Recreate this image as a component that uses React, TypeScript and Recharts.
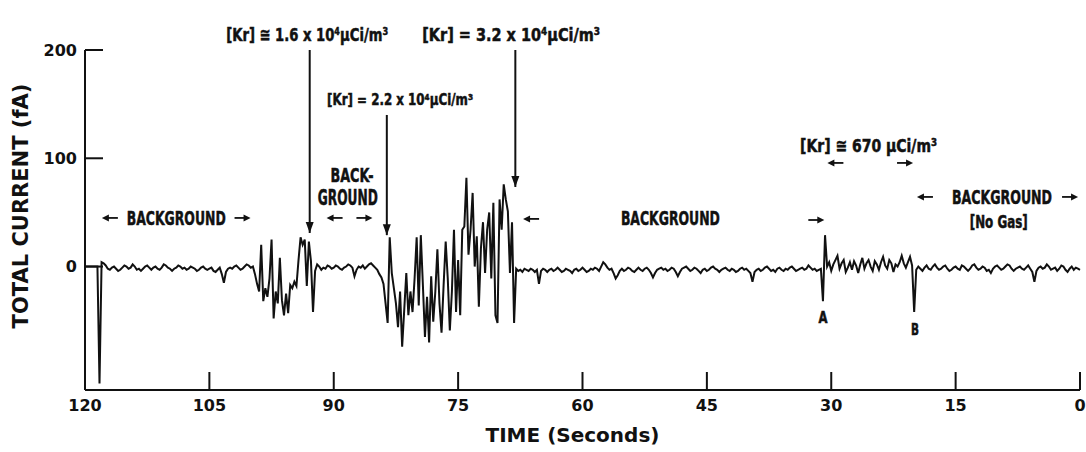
import { LineChart, Line, XAxis, YAxis, ReferenceLine, ReferenceDot, Label } from 'recharts'
import type { ReactNode } from 'react'

// recorder samples every quarter second, run starts at t = 120 s
const SAMPLE_SECONDS = 0.25
const RUN_START = 120

const leadIn = [0, 0, 0, 0, 0, 0, 0]

const background1 = [
    -108, 4, 3, 1, -2, -3, -1, 0, -2, -4,
    -3, -1, 1, 0, -2, -1, 2, 0, -3, -2,
    -4, -2, 0, 1, -1, -3, -1, 0, -2, -3,
    -1, 2, 1, -1, -2, -4, -2, -1, 1, 0,
    -2, -1, -3, -2, 0, -1, -2, -4, -3, -1,
    0, -2, -3, -2, -1, -4, -5, -3, -1, -7,
    -15, -5, -2, -1, -2, 0, 1, -1, -3, -2,
    0, 2, 1, -1, 0,
]

const krypton16 = [
    -7, -16, -23, 20, -32, -20, -28, -11, 25, -48,
    -23, -34, 8, -31, -45, -25, -43, -17, -20, -14,
    -18, 6, 27, 20, 25, -18, 23, 5, -42,
]

const background2 = [
    -4, 2, 0, -3, -1, -2, 1, 0, -2, -1,
    1, 0, -2, -3, -1, 0, 2, 1, -1, -9,
    -3, 0, -1, 1, -2, 0, 2, 3, 1, -1,
    -3, -7, -10,
]

const krypton22to32 = [
    -16, -34, -52, 27, -6, -20, -34, -56, -23, -74,
    -40, -6, -45, -23, -42, -11, 27, -36, 29, -17,
    -65, -28, -70, -9, -51, -23, 16, -34, -61, -17,
    23, -11, -59, -23, 34, -42, 6, -45, 34, 37,
    82, 11, 34, 68, 0, 28, -37, 17, 41, -6,
    34, 50, -11, 59, -45, -52, 62, 34, 76, 62,
    51, -6, 41, -52,
]

const background3 = [
    -2, -4, -3, -5, -2, -3, -4, -2, -3, -5,
    -3, -16, -4, -2, -3, -5, -3, -2, -4, -3,
    -1, -3, -5, -4, -2, -3, -4, -6, -3, -2,
    -4, -3, -1, -3, -5, -4, -2, -3, -1, -2,
    -4, 0, 4, 2, -1, -3, -2, -6, -11, -8,
    -4, -2, -4, -3, -1, -2, -4, -5, -3, -1,
    -3, -4, -2, -1, -3, -6, -10, -6, -3, -2,
    -1, -3, -2, -4, -3, -1, -2, -5, -9, -5,
    -2, -1, 0, -2, -4, -3, -1, -2, -4, -6,
    -3, -2, -4, -3, -1, 0, -2, -3, -5, -3,
    -2, -1, -3, -4, -2, -3, -5, -4, -2, -1,
    -3, -2, -4, -6, -14, -5, -3, -2, -4, -3,
    -1, 0, -2, -4, -3, -5, -2, -1, -3, -4,
    -2, -3, -1, 0, -2, -4, -3, -2, -1, -3,
    -2, 1, -1, -3, -2, -4, -3, -2,
]

const krypton670 = [
    -32, 29, 0, 4, -4, 2, 6, 10, -2, 3,
    6, -5, -1, 4, -3, 5, 1, -6, 2, 8,
    -2, 3, 6, 0, -4, 5, 2, -3, 4, 9,
    1, -2, 6, 3, -5, 2, 0, 4, 10, 3,
    -1, 4, 9, 1, -42,
]

const noGas = [
    -3, 0, -2, -4, -1, 1, -2, -3, 0, 2,
    -1, -3, -2, 0, 1, -2, -4, -3, -1, 0,
    -2, -3, 1, 0, -2, -4, -2, 1, 2, -1,
    -3, -2, 0, -1, -4, -3, -6, -2, 0, 1,
    -1, -3, -2, 0, 2, 1, -2, -4, -2, -1,
    0, -2, -3, -1, 1, -2, -5, -14, -4, -1,
    0, -2, -1, 2, 0, -3, -2, -1, -4, -2,
    1, 0, -3, -5, -2, 0, -3, -1, -2, -3,
]

const currentFA = [
    ...leadIn, ...background1, ...krypton16, ...background2,
    ...krypton22to32, ...background3, ...krypton670, ...noGas,
]

const timeTicks = [120, 105, 90, 75, 60, 45, 30, 15, 0]
const currentTicks = [0, 100, 200]

const data = currentFA.map((current, i) => ({ time: RUN_START - i * SAMPLE_SECONDS, current }))

const INK = '#111'
const AXIS_FONT = "'DejaVu Sans', 'Liberation Sans', sans-serif"
const NOTE_FONT = "'Liberation Sans Narrow', 'DejaVu Sans Condensed', 'Liberation Sans', sans-serif"

const Note = ({ time, current, width, size = 20, children }: { time: number; current: number; width: number; size?: number; children: ReactNode }) => (
    <ReferenceDot
        x={time}
        y={current}
        r={0}
        ifOverflow="visible"
        shape={(p: any) => (
            <text x={p.cx} y={p.cy} textAnchor="middle" dominantBaseline="central" textLength={width} lengthAdjust="spacingAndGlyphs"
                fontFamily={NOTE_FONT} fontWeight="bold" fontSize={size} fill={INK} stroke={INK} strokeWidth={0.5}>
                {children}
            </text>
        )}
    />
)

const Arrow = ({ time, current, dir }: { time: number; current: number; dir: 'left' | 'right' }) => (
    <ReferenceDot
        x={time}
        y={current}
        r={0}
        ifOverflow="visible"
        shape={(p: any) => {
            const s = dir === 'left' ? -1 : 1
            const tip = p.cx + s * 8
            return (
                <g>
                    <line x1={p.cx - s * 8} y1={p.cy} x2={tip - s * 3} y2={p.cy} stroke={INK} strokeWidth={1.8} />
                    <polygon points={`${tip},${p.cy} ${tip - s * 7},${p.cy - 3.5} ${tip - s * 7},${p.cy + 3.5}`} fill={INK} />
                </g>
            )
        }}
    />
)

const Pointer = ({ time, from, to }: { time: number; from: number; to: number }) => (
    <>
        <ReferenceLine segment={[{ x: time, y: from }, { x: time, y: to }]} stroke={INK} strokeWidth={2} ifOverflow="visible" />
        <ReferenceDot
            x={time}
            y={to}
            r={0}
            ifOverflow="visible"
            shape={(p: any) => <polygon points={`${p.cx - 4},${p.cy - 11} ${p.cx + 4},${p.cy - 11} ${p.cx},${p.cy}`} fill={INK} />}
        />
    </>
)

const App = () => {
    return (
        <div style={{ width: 1086, height: 452, background: '#fff' }}>
            <style>{'body{margin:0}'}</style>
            <LineChart width={1086} height={452} data={data} margin={{ top: 50, right: 6, bottom: 0, left: 0 }}>
                <XAxis
                    type="number"
                    dataKey="time"
                    domain={[0, 120]}
                    reversed
                    ticks={timeTicks}
                    interval={0}
                    height={62}
                    tickSize={-18}
                    tickMargin={28}
                    axisLine={{ stroke: INK, strokeWidth: 2 }}
                    tickLine={{ stroke: INK, strokeWidth: 2 }}
                    tick={{ fill: INK, fontSize: 16, fontWeight: 'bold', fontFamily: AXIS_FONT }}
                >
                    <Label
                        content={({ viewBox }: any) => (
                            <text x={viewBox.x + viewBox.width / 2 - 10} y={viewBox.y + 52} textAnchor="middle"
                                fontFamily={AXIS_FONT} fontWeight="bold" fontSize={20} fill={INK}>
                                TIME (Seconds)
                            </text>
                        )}
                    />
                </XAxis>
                <YAxis
                    type="number"
                    domain={[-114, 200]}
                    ticks={currentTicks}
                    interval={0}
                    width={85}
                    tickSize={-18}
                    tickMargin={26}
                    axisLine={{ stroke: INK, strokeWidth: 2 }}
                    tickLine={{ stroke: INK, strokeWidth: 2 }}
                    tick={{ fill: INK, fontSize: 16, fontWeight: 'bold', fontFamily: AXIS_FONT }}
                >
                    <Label
                        content={({ viewBox }: any) => {
                            const cx = viewBox.x + 20
                            const cy = 206
                            return (
                                <text x={cx} y={cy} dy="0.36em" textAnchor="middle" transform={`rotate(-90 ${cx} ${cy})`}
                                    fontFamily={AXIS_FONT} fontWeight="bold" fontSize={21} fill={INK}>
                                    TOTAL CURRENT (fA)
                                </text>
                            )
                        }}
                    />
                </YAxis>

                <Line type="linear" dataKey="current" stroke={INK} strokeWidth={2} dot={false} isAnimationActive={false} />

                <Pointer time={92.9} from={200} to={31} />
                <Pointer time={83.6} from={140} to={29} />
                <Pointer time={68.1} from={200} to={73.5} />

                <Note time={93.2} current={214} width={162} size={18}>[Kr] ≅ 1.6 x 10⁴µCi/m³</Note>
                <Note time={68.6} current={214} width={178} size={18}>[Kr] = 3.2 x 10⁴µCi/m³</Note>
                <Note time={82.0} current={154} width={146} size={16}>[Kr] = 2.2 x 10⁴µCi/m³</Note>
                <Note time={25.5} current={112} width={137} size={18}>[Kr] ≅ 670 µCi/m³</Note>

                <Arrow time={117} current={44.9} dir="left" />
                <Note time={109} current={44.9} width={99}>BACKGROUND</Note>
                <Arrow time={101} current={44.9} dir="right" />

                <Note time={87.8} current={84.6} width={43}>BACK-</Note>
                <Note time={88.3} current={63.4} width={60} size={21}>GROUND</Note>
                <Arrow time={89.9} current={44.9} dir="left" />
                <Arrow time={86.3} current={44.9} dir="right" />

                <Arrow time={66.2} current={44} dir="left" />
                <Note time={49.4} current={44.9} width={99}>BACKGROUND</Note>
                <Arrow time={31.8} current={43} dir="right" />

                <Arrow time={29.5} current={95.7} dir="left" />
                <Arrow time={21.1} current={95.7} dir="right" />

                <Arrow time={18.7} current={64.3} dir="left" />
                <Note time={9.4} current={64.3} width={100} size={19}>BACKGROUND</Note>
                <Arrow time={1.2} current={64.3} dir="right" />
                <Note time={9.8} current={41.2} width={58} size={17}>[No Gas]</Note>

                <Note time={31.0} current={-47.9} width={9} size={15}>A</Note>
                <Note time={19.9} current={-59} width={8} size={15}>B</Note>
            </LineChart>
        </div>
    )
}

export default App
